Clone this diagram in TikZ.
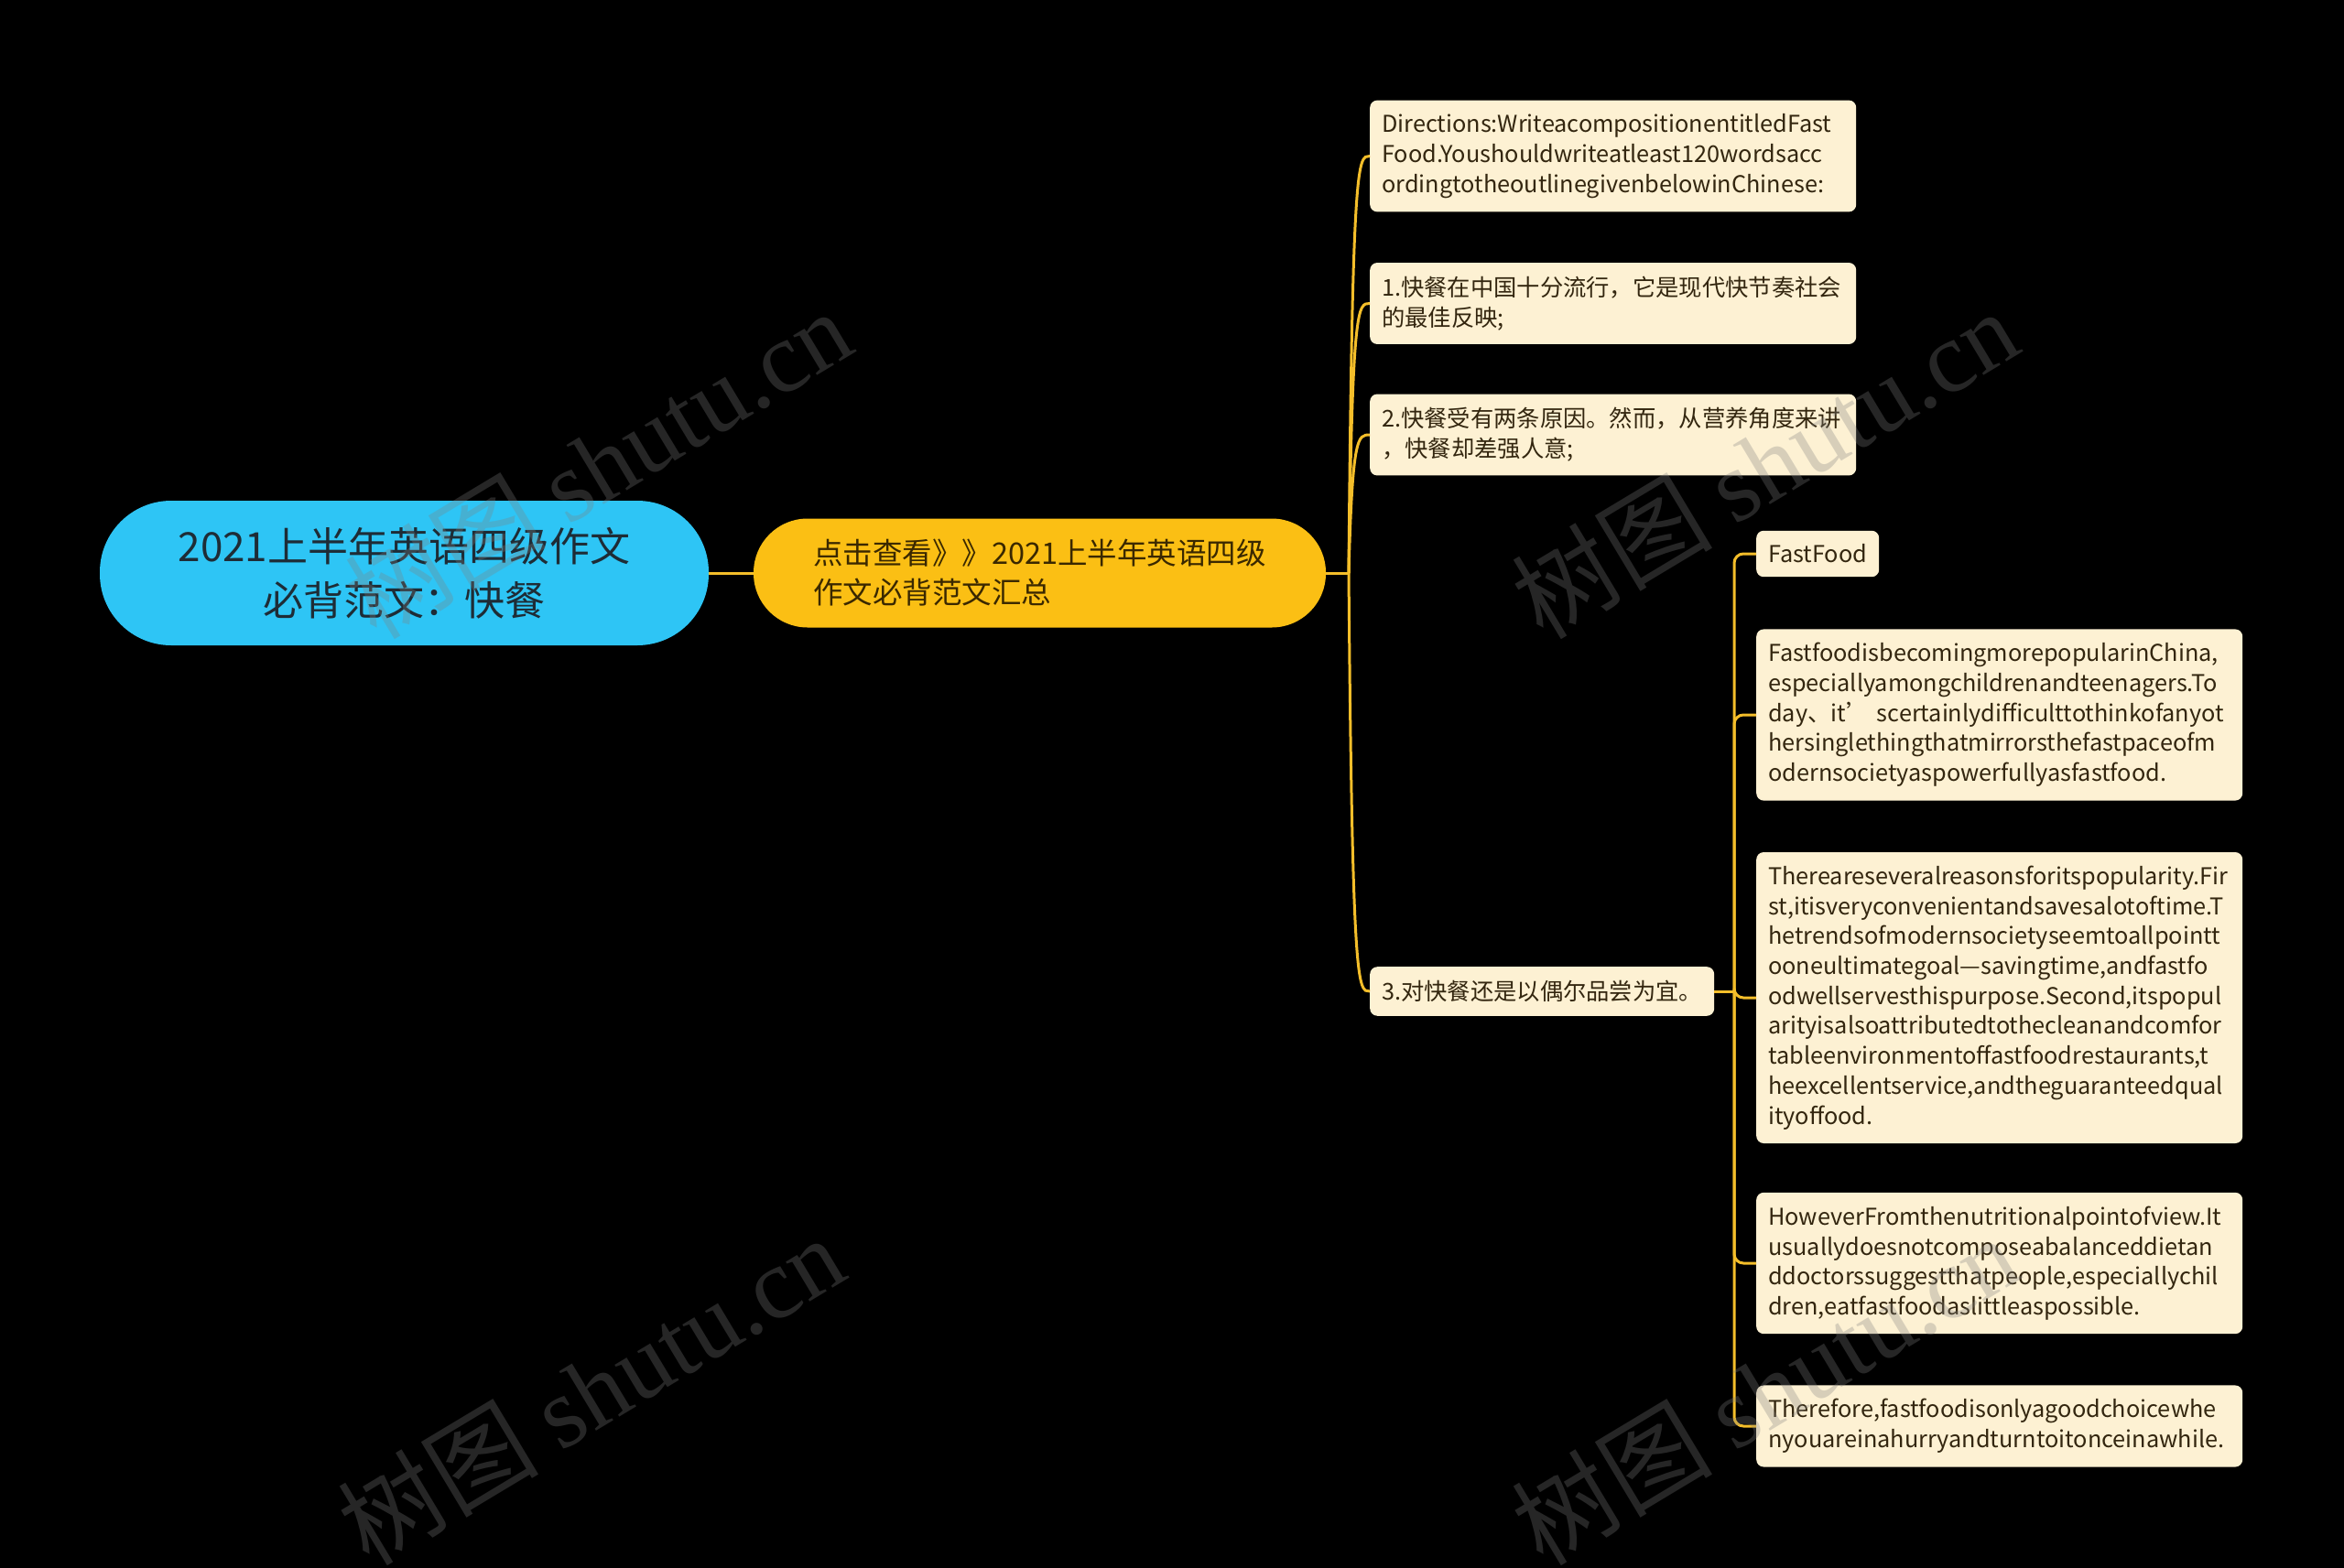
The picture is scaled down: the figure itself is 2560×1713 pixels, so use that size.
\documentclass[tikz,border=0pt]{standalone}
\usepackage{fontspec}
\setmainfont{Noto Sans CJK SC}
\newfontfamily\wmfont{Liberation Serif}
\usetikzlibrary{calc}
\definecolor{bgc}{HTML}{000000}
\definecolor{rootc}{HTML}{2EC5F5}
\definecolor{mainc}{HTML}{FBBF14}
\definecolor{leafc}{HTML}{FDF1D3}
\definecolor{linec}{HTML}{F4BE2A}
\definecolor{leaftext}{HTML}{33260F}
\definecolor{roottext}{HTML}{1E2C36}
\definecolor{maintext}{HTML}{3A2800}
\begin{document}
\begin{tikzpicture}[x=1pt,y=-1pt,
  conn/.style={draw=linec, line width=3pt},
  rootbox/.style={fill=rootc, rounded corners=78pt, minimum width=665pt, minimum height=158pt,
    align=center, text=roottext, font=\fontsize{44}{59}\selectfont},
  mainbox/.style={fill=mainc, rounded corners=59pt, minimum width=625pt, minimum height=119pt,
    align=left, text=maintext, font=\fontsize{32.5}{43}\selectfont},
  leaf/.style={fill=leafc, rounded corners=8pt, inner xsep=13pt, inner ysep=15pt, align=left,
    text=leaftext, font=\fontsize{25.3}{32.7}\selectfont, anchor=west},
  wide/.style={text width=505pt},
  wm/.style={text=gray, opacity=0.3, font=\fontsize{110}{110}\selectfont}]
\fill[bgc] (0,0) rectangle (2560,1713);
\useasboundingbox (0,0) rectangle (2560,1713);

\node[rootbox] (root) at (441.5,626) {2021上半年英语四级作文\\必背范文：快餐};
\node[mainbox] (n2) at (1135.5,626) {点击查看》》2021上半年英语四级\\作文必背范文汇总};

\node[leaf,wide] (l1) at (1496,170.5) {Directions:WriteacompositionentitledFast\\Food.Youshouldwriteatleast120wordsacc\\ordingtotheoutlinegivenbelowinChinese:};
\node[leaf,wide] (l2) at (1496,331.5) {1.快餐在中国十分流行，它是现代快节奏社会\\的最佳反映;};
\node[leaf,wide] (l3) at (1496,475) {2.快餐受有两条原因。然而，从营养角度来讲\\，快餐却差强人意;};
\node[leaf] (l4) at (1496,1083) {3.对快餐还是以偶尔品尝为宜。};

\node[leaf] (s1) at (1918,605) {FastFood};
\node[leaf,wide] (s2) at (1918,781) {FastfoodisbecomingmorepopularinChina,\\especiallyamongchildrenandteenagers.To\\day、it’ scertainlydifficulttothinkofanyot\\hersinglethingthatmirrorsthefastpaceofm\\odernsocietyaspowerfullyasfastfood.};
\node[leaf,wide] (s3) at (1918,1090) {Thereareseveralreasonsforitspopularity.Fir\\st,itisveryconvenientandsavesalotoftime.T\\hetrendsofmodernsocietyseemtoallpointt\\ooneultimategoal—savingtime,andfastfo\\odwellservesthispurpose.Second,itspopul\\arityisalsoattributedtothecleanandcomfor\\tableenvironmentoffastfoodrestaurants,t\\heexcellentservice,andtheguaranteedqual\\ityoffood.};
\node[leaf,wide] (s4) at (1918,1380) {HoweverFromthenutritionalpointofview.It\\usuallydoesnotcomposeabalanceddietan\\ddoctorssuggestthatpeople,especiallychil\\dren,eatfastfoodaslittleaspossible.};
\node[leaf,wide] (s5) at (1918,1558) {Therefore,fastfoodisonlyagoodchoicewhe\\nyouareinahurryandturntoitonceinawhile.};

\draw[conn] (root.east) -- (n2.west);
\coordinate (t1) at (1473,626);
\draw[conn] (n2.east) -- (t1);
\foreach \n in {l1,l2,l3,l4}
  \draw[conn] (t1) .. controls ($(t1|-\n.west)+(4,0)$) and ($(t1|-\n.west)+(10,0)$) .. (\n.west);
\coordinate (t2) at (1894,1083);
\draw[conn] (l4.east) -- (t2);
\foreach \n in {s1,s2,s3,s4,s5}
  \draw[conn, rounded corners=10pt] (t2) |- (\n.west);

\node[wm, rotate=31] (w1) at (653,506) {树图 {\wmfont shutu.cn}};
\node[wm, rotate=31] (w2) at (1927,506) {树图 {\wmfont shutu.cn}};
\node[wm, rotate=31] (w3) at (645,1518) {树图 {\wmfont shutu.cn}};
\node[wm, rotate=31] (w4) at (1927,1518) {树图 {\wmfont shutu.cn}};
\end{tikzpicture}
\end{document}
